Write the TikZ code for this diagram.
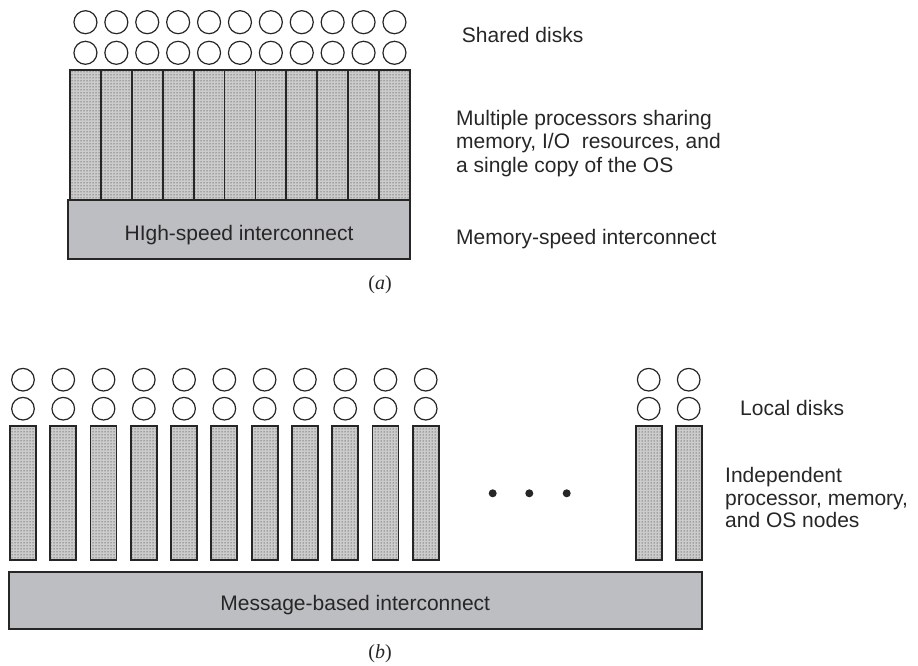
\documentclass[tikz,border=0pt]{standalone}
\usepackage{fontspec}
\setmainfont{Liberation Sans}
\newfontfamily\capfont{Liberation Serif}
\usetikzlibrary{patterns}
\definecolor{busgray}{HTML}{BDBEC1}
\definecolor{inkgray}{HTML}{262626}

\tikzset{
  disk/.style={draw=inkgray, line width=1.2pt, fill=white},
  cpu/.style={draw=inkgray, line width=1.8pt, preaction={fill=gray!40}, pattern=dots, pattern color=black!90},
  divider/.style={draw=inkgray, line width=1.8pt},
  bus/.style={draw=inkgray, line width=1.6pt, fill=busgray},
  lbl/.style={anchor=base west, inner sep=0pt, font=\fontsize{21}{24}\selectfont, text=inkgray},
  buslbl/.style={anchor=base, inner sep=0pt, font=\fontsize{21}{24}\selectfont, text=inkgray},
  caption/.style={anchor=base, inner sep=0pt, font=\capfont\fontsize{20}{24}\selectfont, text=inkgray},
  more/.style={fill=inkgray, draw=none},
}

\begin{document}
\begin{tikzpicture}[x=1pt,y=-1pt]
\useasboundingbox (0,0) rectangle (918,666);

% ---------- (a) shared-memory multiprocessor ----------
\foreach \k in {0,...,10} {
  \pgfmathsetmacro\cx{85.45+30.9*\k}
  \draw[disk] (\cx,22.2) circle (11.5);
  \draw[disk] (\cx,52.8) circle (11.5);
}
\draw[cpu] (70,70) rectangle (410,201);
\foreach \k in {1,...,10}
  \draw[divider] ({70+30.9*\k},70) -- ({70+30.9*\k},201);
\draw[bus] (68,200) rectangle (410,259);
\node[buslbl] (hsi) at (239,240) {HIgh-speed interconnect};
\node[caption] (capa) at (380,289.5) {(\textit{a})};

\node[lbl] (sd)  at (461.7,42.7) {Shared disks};
\node[lbl] (mp1) at (456,125)   {Multiple processors sharing};
\node[lbl] (mp2) at (456,148.3) {memory, I/O\ \ resources, and};
\node[lbl] (mp3) at (456,172.7) {a single copy of the OS};
\node[lbl] (msi) at (456,244.3) {Memory-speed interconnect};

% ---------- (b) cluster of independent nodes ----------
\foreach \k in {0,...,10} {
  \pgfmathsetmacro\cx{23+40.27*\k}
  \draw[disk] (\cx,379.7) circle (11.3);
  \draw[disk] (\cx,408.7) circle (11.3);
  \draw[cpu] ({\cx-13},425.7) rectangle ({\cx+13},560);
}
\foreach \cx in {648.7,688.7} {
  \draw[disk] (\cx,379.7) circle (11.3);
  \draw[disk] (\cx,408.7) circle (11.3);
  \draw[cpu] ({\cx-13},425.7) rectangle ({\cx+13},560);
}
\foreach \cx in {492.7,529.3,566.7}
  \fill[more] (\cx,493.3) circle (4);

\draw[bus] (9,571.7) rectangle (701.7,629);
\node[buslbl] (mbi) at (355.3,610) {Message-based interconnect};
\node[caption] (capb) at (380,658.7) {(\textit{b})};

\node[lbl] (ld) at (740,415)   {Local disks};
\node[lbl] (ip1) at (725,482.7) {Independent};
\node[lbl] (ip2) at (725,505.7) {processor, memory,};
\node[lbl] (ip3) at (725,527.7) {and OS nodes};
\end{tikzpicture}
\end{document}
